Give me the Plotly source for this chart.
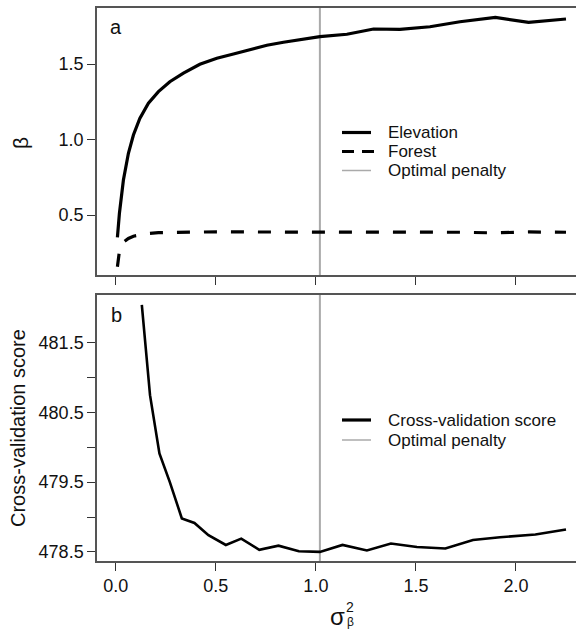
import plotly.graph_objects as go

# ---------------- data ----------------
penalty_top = [0.008, 0.018, 0.038, 0.063, 0.088, 0.12, 0.163, 0.213, 0.27, 0.338,
               0.42, 0.505, 0.588, 0.67, 0.755, 0.838, 0.92, 1.02, 1.155, 1.288,
               1.42, 1.57, 1.72, 1.897, 2.063, 2.25]
elevation = [0.352, 0.511, 0.732, 0.909, 1.03, 1.14, 1.24, 1.317, 1.383, 1.44,
             1.498, 1.538, 1.566, 1.597, 1.624, 1.644, 1.659, 1.681, 1.697, 1.732,
             1.73, 1.747, 1.78, 1.809, 1.776, 1.798]
forest = [0.158, 0.26, 0.32, 0.345, 0.36, 0.37, 0.378, 0.383, 0.385, 0.386,
          0.387, 0.389, 0.388, 0.388, 0.388, 0.388, 0.388, 0.389, 0.388, 0.386,
          0.388, 0.388, 0.386, 0.382, 0.388, 0.386]

penalty_cv = [0.13, 0.171, 0.218, 0.27, 0.33, 0.393, 0.463, 0.55, 0.627, 0.717,
              0.813, 0.915, 1.02, 1.133, 1.255, 1.375, 1.505, 1.647, 1.785, 1.92,
              2.097, 2.25]
cv_score = [482.04, 480.745, 479.91, 479.5, 478.98, 478.915, 478.74, 478.6, 478.69, 478.53,
            478.59, 478.51, 478.5, 478.6, 478.52, 478.62, 478.57, 478.55, 478.67, 478.71,
            478.75, 478.82]

optimal_penalty = 1.02

x_ticks = [0.0, 0.5, 1.0, 1.5, 2.0]
x_ticklabels = ["0.0", "0.5", "1.0", "1.5", "2.0"]
beta_ticks = [0.5, 1.0, 1.5]
beta_ticklabels = ["0.5", "1.0", "1.5"]
cv_ticks = [478.5, 479.0, 479.5, 480.0, 480.5, 481.0, 481.5]
cv_ticklabels = ["478.5", "", "479.5", "", "480.5", "", "481.5"]

legend_top = ["Elevation", "Forest", "Optimal penalty"]
legend_bottom = ["Cross-validation score", "Optimal penalty"]

# ---------------- figure ----------------
W, H = 576, 631
FONT = "Liberation Sans, Arial, Helvetica, sans-serif"
BLACK = "#000000"
GREY = "#aaaaaa"
BOX = "#555555"
TXT = "#111111"

fig = go.Figure()
fig.add_trace(go.Scatter(x=penalty_top, y=elevation, mode="lines",
                         line=dict(color=BLACK, width=3.2), xaxis="x", yaxis="y",
                         showlegend=False))
fig.add_trace(go.Scatter(x=penalty_top, y=forest, mode="lines",
                         line=dict(color=BLACK, width=3.2, dash="13px,14px"),
                         xaxis="x", yaxis="y", showlegend=False))
fig.add_trace(go.Scatter(x=penalty_cv, y=cv_score, mode="lines",
                         line=dict(color=BLACK, width=2.6), xaxis="x2", yaxis="y2",
                         showlegend=False))

xdom = [97 / W, 1.0]
top_dom = [1 - 275 / H, 1 - 8 / H]
bot_dom = [1 - 561 / H, 1 - 295 / H]

axis_common = dict(showline=True, linecolor=BOX, linewidth=1.5,
                   ticks="outside", ticklen=8, tickwidth=1.2, tickcolor="#333333",
                   showgrid=False, zeroline=False,
                   tickfont=dict(family=FONT, size=18, color=TXT))

fig.update_layout(
    width=W, height=H,
    margin=dict(l=0, r=0, t=0, b=0),
    paper_bgcolor="white", plot_bgcolor="white",
    font=dict(family=FONT, color=TXT),
    xaxis=dict(domain=xdom, anchor="y", range=[-0.094, 2.30], mirror=True,
               tickvals=x_ticks, ticktext=x_ticklabels, showticklabels=False,
               **axis_common),
    yaxis=dict(domain=top_dom, anchor="x", range=[0.103, 1.871], mirror=False,
               tickvals=beta_ticks, ticktext=beta_ticklabels, **axis_common),
    xaxis2=dict(domain=xdom, anchor="y2", range=[-0.094, 2.30], mirror=True,
                tickvals=x_ticks, ticktext=x_ticklabels, **axis_common),
    yaxis2=dict(domain=bot_dom, anchor="x2", range=[478.37, 482.18], mirror=False,
                tickvals=cv_ticks, ticktext=cv_ticklabels, **axis_common),
    showlegend=False,
)

# optimal penalty vertical lines
for xr, yr in (("x", "y domain"), ("x2", "y2 domain")):
    fig.add_shape(type="line", xref=xr, yref=yr, x0=optimal_penalty, x1=optimal_penalty,
                  y0=0, y1=1, line=dict(color=GREY, width=2), layer="below")


def px(x):
    return x / W


def py(y):
    return 1 - y / H


def label(x, y, text, size, angle=0, xanchor="center"):
    fig.add_annotation(x=px(x), y=py(y), xref="paper", yref="paper", text=text,
                       textangle=angle, showarrow=False, xanchor=xanchor,
                       yanchor="middle", borderpad=0,
                       font=dict(size=size, family=FONT, color=TXT))


# panel letters
label(116, 27, "a", 20)
label(116, 315, "b", 20)

# axis titles
label(20, 143, "β", 21, angle=-90)
label(18, 428, "Cross-validation score", 20, angle=-90)
label(337, 616, "σ", 24)
label(350, 607, "2", 14)
label(350, 622, "β", 12)


# legends (drawn manually to match R's legend layout)
def legend_row(y, text, color, width, dash=None, x1=371):
    fig.add_shape(type="line", xref="paper", yref="paper",
                  x0=px(342), x1=px(x1), y0=py(y), y1=py(y),
                  line=dict(color=color, width=width, dash=dash))
    label(387, y, text, 17, xanchor="left")


legend_row(132.5, legend_top[0], BLACK, 3.2)
legend_row(151.5, legend_top[1], BLACK, 3.2, "12px,8px", x1=377)
legend_row(170.5, legend_top[2], GREY, 1.5)

legend_row(420, legend_bottom[0], BLACK, 3.2)
legend_row(440, legend_bottom[1], GREY, 1.5)

fig.write_html("out.html", config={"displayModeBar": False},
               post_script="document.body.style.margin='0';document.body.style.padding='0';")
